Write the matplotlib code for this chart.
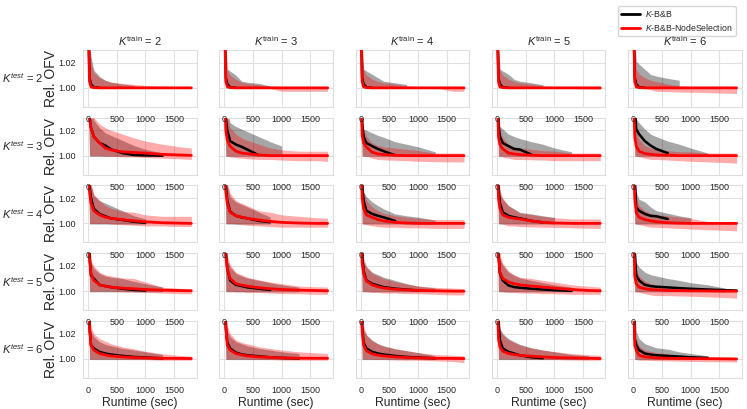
import numpy as np
import matplotlib
matplotlib.use("Agg")
import matplotlib.pyplot as plt
import seaborn as sns

sns.set_style("whitegrid")
plt.rcParams["font.family"] = ["Liberation Sans", "DejaVu Sans"]
plt.rcParams["mathtext.fontset"] = "custom"
plt.rcParams["mathtext.rm"] = "Liberation Sans"
plt.rcParams["mathtext.it"] = "Liberation Sans:italic"

# time knots (sec), values are per-mille above 1.0 (Rel. OFV = 1 + v/1000)
T = [0, 25, 50, 100, 200, 300, 400, 600, 800, 1000, 1300, 1600, 1800]
k_train = [2, 3, 4, 5, 6]
k_test = [2, 3, 4, 5, 6]

# K-B&B mean (stops when the run finishes)
bb_mean = [
    [[60, 8, 3, 0.5, 0], [60, 8, 3, 0.5, 0], [60, 8, 3, 0.5, 0], [60, 8, 3, 0.5, 0], [60, 8, 3, 0.5, 0]],
    [[60, 30, 22, 15, 10, 8, 5, 2, 0.5, 0.2, 0],
     [60, 30, 20, 11.5, 8.8, 7, 4.8, 0.3],
     [60, 25, 15, 10, 7.5, 5.3, 3.5, 0.3],
     [60, 25, 15, 10, 7.5, 5.3, 4.8, 0.8],
     [60, 40, 21, 17, 11.5, 8, 5.3, 2]],
    [[60, 30, 20, 11.5, 7.5, 5.6, 4, 2.7, 1.3, 0.5],
     [60, 30, 18, 9.3, 6, 4.8, 4, 2, 1],
     [60, 30, 18, 10, 7.5, 6, 4.8, 2],
     [60, 30, 16, 8.8, 6, 4.8, 4, 2, 0.8],
     [60, 35, 12.8, 10, 7.5, 6, 5.6, 3.5]],
    [[60, 30, 12.5, 10, 5, 4, 3.2, 1.9, 1, 0.5],
     [60, 30, 18, 8.5, 5, 4, 3, 1.9, 1],
     [60, 30, 16, 8.5, 5.9, 4.5, 3.2, 2, 1.2, 0.6],
     [60, 30, 14, 8.5, 4.5, 3.2, 2.7, 1.9, 1.3, 0.8, 0.2],
     [60, 30, 12.5, 8.5, 5, 4, 3.5, 3, 2.4, 1.9, 1.3, 0.8, 0.5]],
    [[60, 25, 11, 8.3, 5.6, 4.3, 3.5, 2.4, 1.6, 1.1, 0.5],
     [60, 25, 13, 8.3, 5, 3.7, 2.9, 2.1, 1.3, 0.8, 0.4],
     [60, 25, 13, 8.3, 5.6, 4.3, 3.5, 2.4, 1.6, 1.1, 0.5],
     [60, 30, 15, 8.3, 5.6, 4.3, 2.9, 1.3, 0.6],
     [60, 16, 11, 7, 4.3, 3.5, 2.9, 2.4, 1.9, 1.3, 0.8]],
]

# K-B&B band upper edge
bb_hi = [
    [[60, 40, 25, 14, 9, 6, 4.5, 3, 2],
     [60, 40, 15, 13.3, 10, 5.3, 4.5, 3.5, 1.5],
     [60, 40, 15, 13.3, 10.7, 8, 5.3, 4, 2.7],
     [60, 40, 15, 13.3, 10.7, 6.7, 5.3, 4, 2.5],
     [60, 40, 21, 18.7, 14.7, 10.7, 9.3, 7.5, 6]],
    [[60, 60, 40, 28, 22, 18, 16, 12, 8, 5, 2],
     [60, 60, 35, 26, 23, 21, 19, 15, 11, 7.5],
     [60, 40, 21, 20, 18, 16, 14.5, 11, 9, 7, 3],
     [60, 40, 23, 21, 17, 15, 13.5, 11, 9, 6, 3],
     [60, 60, 29, 26, 21, 17, 15, 11.5, 9, 6, 2]],
    [[60, 50, 30, 22, 18, 16, 14, 10, 6, 3.5],
     [60, 50, 30, 21, 17, 15, 13, 9, 5],
     [60, 50, 25, 21, 17, 14, 11.5, 7.5, 6, 5, 2.5],
     [60, 50, 23, 19, 14, 11.5, 8.8, 7.5, 6, 4.8],
     [60, 50, 25, 19, 17, 13, 10, 8, 6, 4.5]],
    [[60, 50, 22, 18, 14, 12, 11, 10, 7.7, 5.9, 3.2],
     [60, 50, 24.5, 19, 14, 12, 10.4, 8.5, 6.7, 5, 3.2],
     [60, 50, 23, 19, 15, 13, 11, 8.5, 6, 4, 2.5],
     [60, 50, 26, 20.5, 15, 12.5, 10.4, 8.5, 6.7, 5, 3.2],
     [60, 50, 23, 19, 15, 13, 12, 10, 8.5, 6.7, 5, 2.4]],
    [[60, 45, 21.6, 17.6, 13.6, 11.5, 10.4, 8.3, 7, 5.6, 3.5],
     [60, 45, 21.6, 17.6, 13.6, 12, 10.4, 8.3, 7, 5.6, 4.3],
     [60, 45, 23, 19, 15, 12, 10.4, 8, 6.5, 5, 2.5],
     [60, 50, 24, 20, 16, 13.6, 11.5, 8.8, 7, 5.6, 3.5, 2.5],
     [60, 40, 21.6, 16, 12, 10.4, 8.8, 7.7, 5.6, 4.3, 2.4]],
]

# K-B&B band lower edge (flat after the first drop)
bb_floor = [
    [0, 0, 0, 0, 0],
    [-0.5, -0.5, -0.5, -0.5, -0.5],
    [-0.5, -0.5, -0.5, -0.5, -0.5],
    [-0.5, -0.5, -0.5, -0.5, -0.5],
    [-0.5, -0.5, -0.5, -0.5, -0.5],
]

# K-B&B-NodeSelection mean
ns_mean = [
    [[60, 5, 1, 0.2, 0, 0, 0, 0, 0, 0, 0, 0, 0]] * 5,
    [[60, 30, 22, 15, 10, 6, 4.5, 3, 2.5, 2, 1, 0.5, 0.2],
     [60, 20, 12, 7.5, 3.5, 2, 1.5, 0.5, 0, 0, 0, 0, 0],
     [60, 16, 10, 6.7, 2.7, 1.3, 0.8, 0.3, 0, 0, 0, 0, 0],
     [60, 15, 8.8, 5.3, 2, 1.3, 0.8, 0.3, 0, 0, 0, 0, 0],
     [60, 15, 7.5, 3.5, 1.6, 1, 0.5, 0.3, 0, 0, 0, 0, 0]],
    [[60, 25, 16, 10, 6.7, 5, 4, 3, 2, 1.3, 0.5, 0.2, 0],
     [60, 25, 16, 8.8, 6, 5, 4, 2.7, 1.6, 0.8, 0.3, 0, 0],
     [60, 20, 12, 6.7, 4.8, 3, 2, 0.8, 0.3, 0, 0, 0, 0],
     [60, 20, 12, 6.7, 4.8, 4, 3.5, 1.9, 0.8, 0.3, 0, 0, 0],
     [60, 20, 8.8, 4.8, 3, 2, 1.3, 0.5, 0.2, 0, 0, 0, 0]],
    [[60, 25, 14, 8.5, 5, 4, 3.2, 2.4, 1.9, 1.3, 0.8, 0.5, 0.3],
     [60, 28, 18, 10, 5.9, 4.8, 4, 2.7, 1.9, 1.3, 0.8, 0.5, 0.3],
     [60, 22, 14, 8, 5, 3.5, 2.5, 1.5, 1, 0.6, 0.3, 0, 0],
     [60, 28, 15, 10, 7.2, 5.9, 5, 4, 3.2, 2.4, 1.3, 0.5, 0.3],
     [60, 12, 5.9, 3.2, 1.9, 1.3, 1, 0.5, 0.4, 0.3, 0.2, 0, 0]],
    [[60, 25, 11, 7, 4.3, 3.2, 2.4, 1.6, 1.1, 0.8, 0.5, 0.4, 0.3],
     [60, 25, 11, 7, 4.3, 3.2, 2.4, 1.6, 1.2, 0.8, 0.6, 0.5, 0.5],
     [60, 22, 11, 6.5, 4, 3, 2.4, 1.6, 1.1, 0.8, 0.5, 0.4, 0.3],
     [60, 16, 9.6, 6.1, 4.3, 3.5, 2.9, 2.1, 1.6, 1.1, 0.8, 0.5, 0.3],
     [60, 11, 7, 2.9, 1.6, 1.2, 0.8, 0.5, 0.4, 0.3, 0.2, 0.1, 0]],
]

# K-B&B-NodeSelection band upper edge
ns_hi = [
    [[60, 35, 20, 12, 8, 6, 4.5, 3.5, 2.7, 1.9, 1.3, 1, 0.8],
     [60, 30, 14, 10, 6.7, 4.5, 3.5, 2.5, 1.5, 1, 1, 1, 1],
     [60, 30, 14, 10, 7, 5, 4, 3, 1.5, 1, 0.5, 0.5, 0.5],
     [60, 30, 14, 10, 7, 5, 4, 3, 1.5, 1, 0.8, 0.5, 0.5],
     [60, 30, 15, 11, 8, 6, 5, 3, 1.5, 1, 1, 1, 1]],
    [[60, 60, 45, 30, 25, 22, 20, 17, 14, 11.5, 9, 7, 6],
     [60, 60, 30, 22, 17, 14, 12, 9, 6, 4.5, 3.5, 3.5, 3.5],
     [60, 40, 21, 15, 10, 8, 7, 6, 5, 4, 2, 2, 2],
     [60, 40, 20, 14, 9, 7, 6, 5, 4, 3.5, 2, 2, 2],
     [60, 40, 20, 13, 8, 6, 5, 4, 3, 3, 2, 2, 2]],
    [[60, 50, 32, 23, 18, 14, 12, 9.5, 8.8, 6.7, 5.6, 5.6, 5.6],
     [60, 50, 32, 24, 18, 16, 14, 10, 8.8, 6.7, 5.6, 4.5, 4],
     [60, 45, 25, 18, 13, 10, 8, 6, 5, 4, 3, 3, 3],
     [60, 45, 26, 20, 14, 11, 8, 7, 5.5, 4.5, 3.5, 3.5, 3.5],
     [60, 40, 20, 14, 10, 8, 7, 6, 5, 4, 1.5, 1, 1]],
    [[60, 45, 24, 20, 15, 13, 12, 10.4, 10, 7.2, 3.2, 2.2, 1.9],
     [60, 50, 28, 21, 15, 13, 11, 9, 7.2, 5.9, 4, 3.5, 3.2],
     [60, 45, 26, 20, 14, 12, 10, 7.5, 5.5, 4, 3, 2.5, 2],
     [60, 50, 30, 22, 16, 13, 11, 10, 8.5, 7.2, 5, 3.8, 3.2],
     [60, 35, 18, 12, 8, 6, 5, 4, 3.5, 3, 2, 1.5, 1]],
    [[60, 45, 26, 20, 16, 14, 12, 9.6, 8, 6, 4, 2.8, 2.1],
     [60, 45, 26, 20, 15, 13, 12, 9.6, 8.3, 7, 5.6, 4.8, 4.3],
     [60, 45, 26, 19, 14, 12, 10, 8, 6.5, 5, 3.5, 3, 2.5],
     [60, 40, 24, 19, 15, 13, 11, 8.5, 7, 5.8, 4.2, 3.3, 2.9],
     [60, 30, 16, 10, 7, 6, 5, 4, 3, 2.5, 1.5, 1.2, 1]],
]

# K-B&B-NodeSelection band lower edge
ns_lo = [
    [[60, 0, 0, 0, 0, 0, 0, 0, 0, 0, 0, 0, -0.5],
     [60, 0, 0, 0, 0, 0, 0, 0, -0.5, -2.7, -2.7, -2.7, -2.7],
     [60, 0, 0, 0, 0, 0, 0, 0, 0, 0, 0, -2.7, -2.7],
     [60, 0, 0, 0, 0, 0, 0, 0, 0, 0, -0.5, -1, -1],
     [60, 0, 0, 0, -0.5, -1.5, -2.7, -3, -3.3, -3.5, -3.8, -4.2, -4.5]],
    [[60, 0, 0, 0, 0, -0.5, -0.5, -1, -1, -1.5, -2, -2.5, -3],
     [60, 0, -0.5, -1, -1.5, -2, -2.5, -3, -3, -3.5, -4, -4, -4.5],
     [60, 0, -0.5, -0.5, -2, -3, -3.3, -3.7, -4, -4.5, -4.8, -5, -5],
     [60, 0, -0.5, -1, -2, -3, -3, -3.3, -3.5, -4, -4, -4, -4],
     [60, 0, -0.5, -1, -2, -3, -3, -3.5, -4, -4.5, -5, -5.5, -6]],
    [[60, 0, 0, 0, 0, 0, -0.5, -1, -1.5, -2, -2, -2.5, -2.5],
     [60, 0, 0, 0, -0.5, -1, -1.5, -2, -2.5, -3, -3, -3, -3],
     [60, 0, -0.5, -1, -2, -2.5, -3, -3, -3.5, -3.5, -4, -4, -4],
     [60, 0, 0, -0.5, -2, -2, -2.5, -2.8, -3, -3.2, -3.5, -3.8, -4],
     [60, 0, -0.5, -1, -2, -3, -3, -3.5, -4, -4.5, -5, -5.5, -5.9]],
    [[60, 0, 0, 0, 0, 0, 0, -0.5, -0.8, -1, -1.5, -2, -2],
     [60, 0, 0, 0, -0.5, -0.5, -1, -1, -1.5, -2, -2, -2.5, -2.5],
     [60, 0, 0, -0.5, -1, -1, -1.5, -1.5, -2, -2, -2.5, -3, -3],
     [60, 0, 0, -0.5, -1, -1, -1.5, -1.5, -2, -2, -2.5, -2.5, -2.5],
     [60, 0, -0.5, -1, -2, -3, -3.5, -3.5, -3.8, -4, -4.5, -5, -5.6]],
    [[60, 0, 0, 0, 0, 0, 0, -0.5, -0.5, -0.5, -1, -1, -1],
     [60, 0, 0, 0, 0, 0, -0.3, -0.5, -0.5, -0.8, -1, -1, -1],
     [60, 0, 0, 0, -0.3, -0.5, -0.5, -0.8, -1, -1, -1.5, -2, -3],
     [60, 0, 0, 0, 0, 0, 0, -0.3, -0.5, -0.5, -0.8, -1, -1],
     [60, 0, -0.5, -1, -1, -1.2, -1.3, -1.5, -1.8, -2, -2.2, -2.3, -2.4]],
]


def rel(v):
    return 1 + np.asarray(v, dtype=float) / 1000.0


# Draws one panel: K-B&B first, node selection on top
def plot_panel(ax, r, c):
    t = np.array(T, dtype=float)

    hi = bb_hi[r][c]
    n = len(hi)
    lo = [hi[0]] + [bb_floor[r][c]] * (n - 1)
    ax.fill_between(t[:n], rel(lo), rel(hi), color="black", alpha=0.35, lw=0, zorder=2)

    ax.fill_between(t, rel(ns_lo[r][c]), rel(ns_hi[r][c]), color="red", alpha=0.33, lw=0, zorder=3)

    m = bb_mean[r][c]
    ax.plot(t[:len(m)], rel(m), color="black", lw=1.8, zorder=4)
    ax.plot(t, rel(ns_mean[r][c]), color="red", lw=2.0, zorder=5)


fig, axes = plt.subplots(5, 5, figsize=(7.47, 4.09), dpi=100)
fig.subplots_adjust(left=0.111, right=0.993, top=0.878, bottom=0.076, wspace=0.2, hspace=0.19)

for r in range(5):
    for c in range(5):
        ax = axes[r][c]
        # upper rows on top so their tick labels stay visible over the next row
        ax.set_zorder(10 - r)
        plot_panel(ax, r, c)
        ax.set_xlim(-90, 1890)
        ax.set_ylim(0.985, 1.03)
        ax.set_xticks([0, 500, 1000, 1500])
        ax.set_yticks([1.00, 1.02])
        ax.tick_params(axis="x", labelsize=6.5, pad=2.5)
        ax.tick_params(axis="y", labelsize=6.5, pad=1.5)
        for s in ax.spines.values():
            s.set_color("#dddddd")
        ax.grid(color="#e0e0e0", lw=0.8)
        if c == 0:
            ax.set_yticklabels(["1.00", "1.02"])
            ax.set_ylabel("Rel. OFV", fontsize=10)
            ax.yaxis.set_label_coords(-0.22, 0.5)
        else:
            ax.set_yticklabels([])
        if r == 0:
            ax.set_title(r"$K^{\mathrm{train}}$ = %d" % k_train[c], fontsize=8, pad=3)
        if r == 4:
            ax.set_xlabel("Runtime (sec)", fontsize=8.7, labelpad=1)

    pos = axes[r][0].get_position()
    fig.text(0.058, (pos.y0 + pos.y1) / 2, r"$K^{test}$ = %d" % k_test[r],
             ha="right", va="center", fontsize=8)

handles = [plt.Line2D([], [], color="black", lw=2), plt.Line2D([], [], color="red", lw=2)]
fig.legend(handles, ["$K$-B&B", "$K$-B&B-NodeSelection"], loc="upper right",
           bbox_to_anchor=(0.991, 0.995), fontsize=6.3, frameon=True, handlelength=2.2,
           borderpad=0.35, labelspacing=0.3, handletextpad=0.6)

fig.savefig("out.png", dpi=100)
